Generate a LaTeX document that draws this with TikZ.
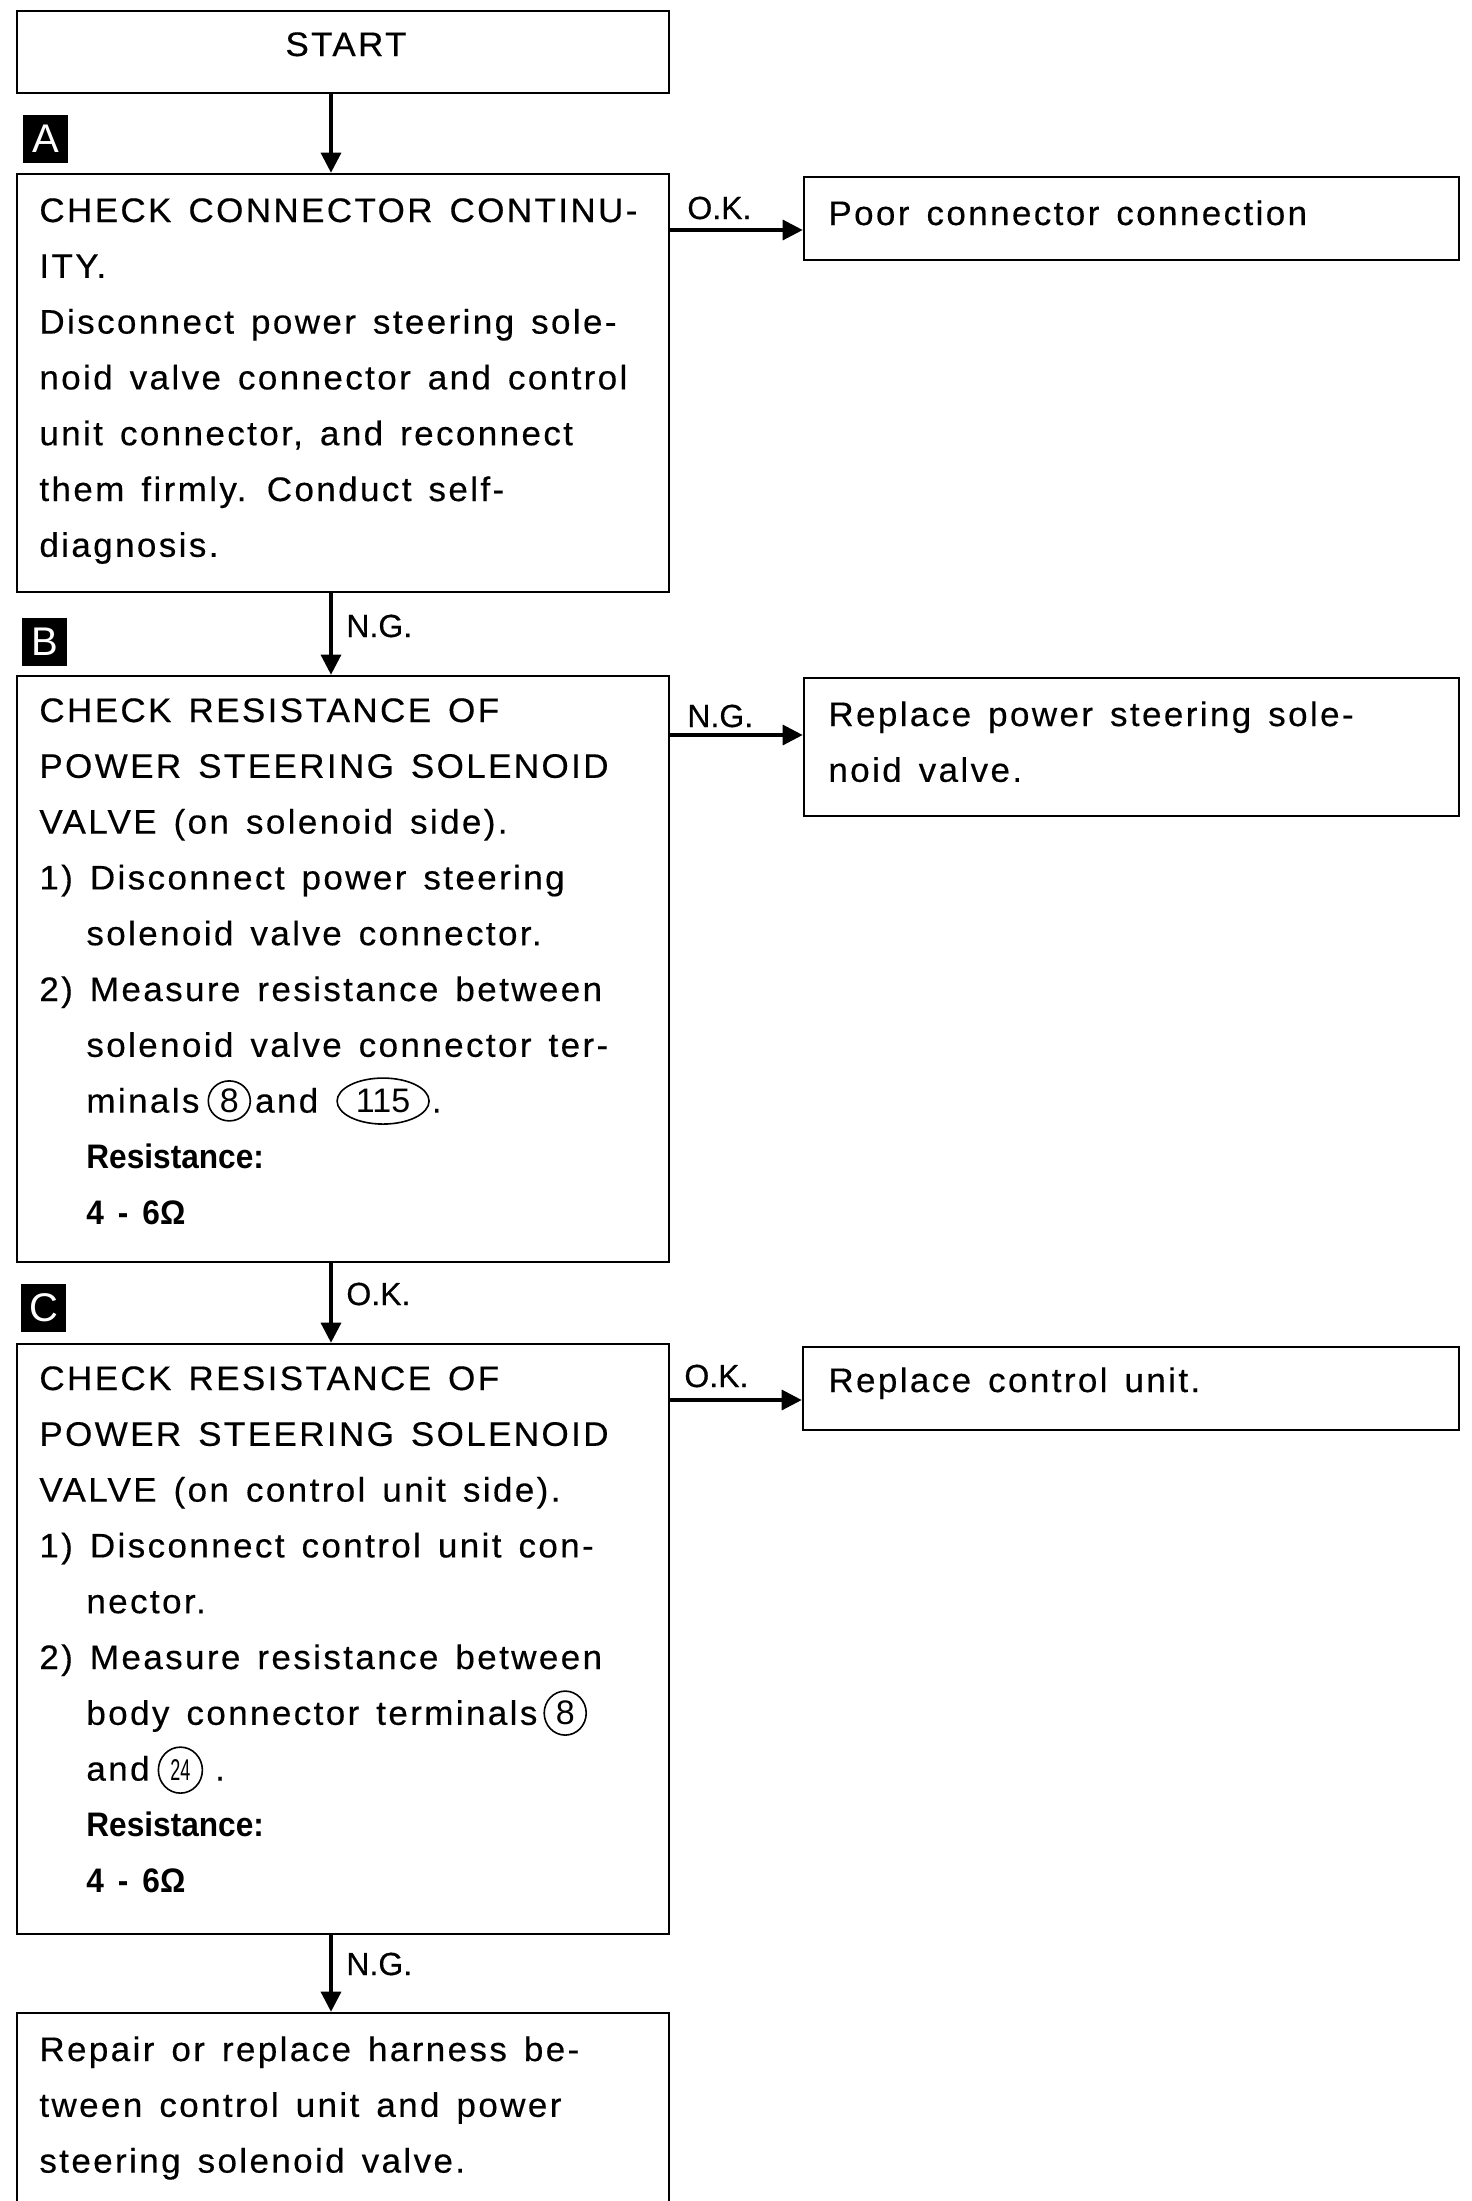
\documentclass[tikz,border=0pt]{standalone}
\usepackage{fontspec}
\setmainfont{Liberation Sans}[FakeStretch=1.03,LetterSpace=7,FakeBold=0.4]
\newfontfamily\bfam{Liberation Sans}[FakeStretch=0.93]
\newfontfamily\lfam{Liberation Sans}[FakeBold=0.4]
\newfontfamily\tfam{Liberation Sans}
\usetikzlibrary{arrows.meta,shapes.geometric}
\newcommand\wsp{\spaceskip=0.5em\xspaceskip=0.6em\relax}
\newcommand\circd[6]{\tikz[baseline=(#1.base)]{\node[inner sep=0,font=\tfam\fontsize{#5}{#5}\selectfont](#1){\addfontfeature{FakeStretch=#6}#2};\draw[line width=0.8pt] (#1.center) ellipse (#3 and #4);}}
\begin{document}
\begin{tikzpicture}[x=0.5pt,y=-0.5pt,
  box/.style={draw, line width=1.3pt, inner sep=0, rectangle},
  txt/.style={anchor=base west, inner sep=0, align=left, text width=350pt, font=\fontsize{17}{27.9}\selectfont},
  lbl/.style={anchor=base west, inner sep=0, font=\fontsize{17}{20}\selectfont},
  arrlbl/.style={anchor=base west, inner sep=0, font=\lfam\fontsize{16}{18}\selectfont},
  tag/.style={fill=black, text=white, minimum width=22.5pt, minimum height=24pt, inner sep=0, font=\tfam\fontsize{20}{20}\selectfont},
  arr/.style={line width=1.6pt, -{Triangle[length=10pt,width=10pt]}}]
\useasboundingbox (0,0) rectangle (1472,2201);
\clip (0,0) rectangle (1472,2201);

% START
\node[box, minimum width=326pt, minimum height=41pt] (start) at (343,52) {};
\node[lbl, anchor=base] (tstart) at (346,56) {START};

% tags
\node[tag] (tagA) at (45.5,139) {A};
\node[tag] (tagB) at (44.5,641.5) {B};
\node[tag] (tagC) at (43.5,1307.5) {C};

% box A
\node[box, minimum width=326pt, minimum height=209pt] (A) at (343,383) {};
\node[txt] (tA) at (39,222) {\wsp CHECK CONNECTOR CONTINU-\\
ITY.\\
Disconnect power steering sole-\\
noid valve connector and control\\
unit connector, and reconnect\\
them firmly. Conduct self-\\
diagnosis.};

\node[box, minimum width=327.5pt, minimum height=41.5pt] (poor) at (1131.5,218.5) {};
\node[lbl] (tpoor) at (828,225) {\wsp Poor connector connection};

% box B
\node[box, minimum width=326pt, minimum height=293pt] (B) at (343,969) {};
\node[txt] (tB) at (39,722) {\wsp CHECK RESISTANCE OF\\
POWER STEERING SOLENOID\\
VALVE (on solenoid side).\\
1) Disconnect power steering\\
\hspace*{23.5pt}solenoid valve connector.\\
2) Measure resistance between\\
\hspace*{23.5pt}solenoid valve connector ter-\\
\hspace*{23.5pt}minals\hspace{4pt}\circd{c1}{8}{10.5pt}{10pt}{17}{1}\hspace{2pt}and\hspace{9pt}\circd{c2}{115}{23pt}{11.5pt}{17}{1}\hspace{1pt}.\\
\hspace*{23.5pt}{\bfam\bfseries Resistance:}\\
\hspace*{23.5pt}{\bfam\bfseries 4\hspace{7pt}-\hspace{7pt}6Ω}};

\node[box, minimum width=327.5pt, minimum height=69pt] (rsol) at (1131.5,747) {};
\node[txt] (trsol) at (828,726) {\wsp Replace power steering sole-\\
noid valve.};

% box C
\node[box, minimum width=326pt, minimum height=295pt] (C) at (343,1639) {};
\node[txt] (tC) at (39,1390) {\wsp CHECK RESISTANCE OF\\
POWER STEERING SOLENOID\\
VALVE (on control unit side).\\
1) Disconnect control unit con-\\
\hspace*{23.5pt}nector.\\
2) Measure resistance between\\
\hspace*{23.5pt}body connector terminals\hspace{3pt}\circd{c3}{8}{10.5pt}{11pt}{17}{1}\\
\hspace*{23.5pt}and\hspace{4pt}\circd{c4}{24}{11pt}{11.5pt}{15}{0.6}\hspace{6pt}.\\
\hspace*{23.5pt}{\bfam\bfseries Resistance:}\\
\hspace*{23.5pt}{\bfam\bfseries 4\hspace{7pt}-\hspace{7pt}6Ω}};

\node[box, minimum width=328pt, minimum height=41.5pt] (rcu) at (1131,1388.5) {};
\node[lbl] (trcu) at (828,1392) {\wsp Replace control unit.};

% box D
\node[box, minimum width=326pt, minimum height=123.5pt] (D) at (343,2136.5) {};
\node[txt] (tD) at (39,2061) {\wsp Repair or replace harness be-\\
tween control unit and power\\
steering solenoid valve.};

% arrows
\coordinate (vx) at (331,0);
\coordinate (h1) at (0,230);
\coordinate (h2) at (0,735);
\coordinate (h3) at (0,1400);
\draw[arr] (start.south -| vx) -- (A.north -| vx);
\draw[arr] (A.south -| vx) -- (B.north -| vx);
\draw[arr] (B.south -| vx) -- (C.north -| vx);
\draw[arr] (C.south -| vx) -- (D.north -| vx);
\draw[arr] (A.east |- h1) -- (poor.west |- h1);
\draw[arr] (B.east |- h2) -- (rsol.west |- h2);
\draw[arr] (C.east |- h3) -- (rcu.west |- h3);

% arrow labels
\node[arrlbl] (ok1) at (687,219) {O.K.};
\node[arrlbl] (ng2) at (687,727) {N.G.};
\node[arrlbl] (ok3) at (684,1387) {O.K.};
\node[arrlbl] (ng1) at (346,637) {N.G.};
\node[arrlbl] (ok2) at (346,1305) {O.K.};
\node[arrlbl] (ng3) at (346,1975) {N.G.};
\end{tikzpicture}
\end{document}
